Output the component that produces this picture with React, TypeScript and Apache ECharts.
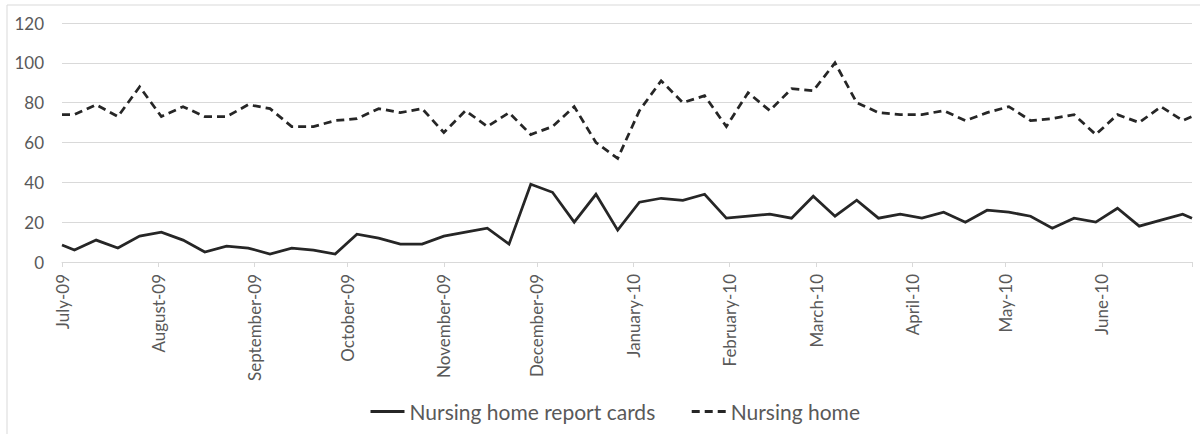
import React, { useEffect, useRef } from "react";
import * as echarts from "echarts";

const AXIS_START = "2009-07-01";
const AXIS_END = "2010-06-30";

const dates: string[] = [
  "2009-07-01", "2009-07-05", "2009-07-12", "2009-07-19", "2009-07-26",
  "2009-08-02", "2009-08-09", "2009-08-16", "2009-08-23", "2009-08-30",
  "2009-09-06", "2009-09-13", "2009-09-20", "2009-09-27",
  "2009-10-04", "2009-10-11", "2009-10-18", "2009-10-25",
  "2009-11-01", "2009-11-08", "2009-11-15", "2009-11-22", "2009-11-29",
  "2009-12-06", "2009-12-13", "2009-12-20", "2009-12-27",
  "2010-01-03", "2010-01-10", "2010-01-17", "2010-01-24", "2010-01-31",
  "2010-02-07", "2010-02-14", "2010-02-21", "2010-02-28",
  "2010-03-07", "2010-03-14", "2010-03-21", "2010-03-28",
  "2010-04-04", "2010-04-11", "2010-04-18", "2010-04-25",
  "2010-05-02", "2010-05-09", "2010-05-16", "2010-05-23", "2010-05-30",
  "2010-06-06", "2010-06-13", "2010-06-20", "2010-06-27", "2010-06-30",
];

const reportCards: number[] = [
  8.5, 6, 11, 7, 13, 15, 11, 5, 8, 7, 4, 7, 6, 4, 14, 12,
  9, 9, 13, 15, 17, 9, 39, 35, 20, 34, 16, 30, 32, 31, 34, 22, 23, 24,
  22, 33, 23, 31, 22, 24, 22, 25, 20, 26, 25, 23, 17, 22, 20, 27, 18, 21, 24, 22,
];

const nursingHome: number[] = [
  74, 74, 79, 73, 88, 73, 78, 73, 73, 79, 77, 68, 68, 71, 72, 77,
  75, 77, 65, 76, 68, 75, 64, 68, 78, 60, 52, 76, 91, 80, 83.5, 68, 85, 76,
  87, 86, 100, 80, 75, 74, 74, 76, 71, 75, 78, 71, 72, 74, 64, 74, 70, 78, 71, 73,
];

const monthNames = [
  "January", "February", "March", "April", "May", "June",
  "July", "August", "September", "October", "November", "December",
];

const SERIES_NAMES = ["Nursing home report cards", "Nursing home"];

function buildDays(start: string, end: string): string[] {
  const out: string[] = [];
  const d = new Date(start + "T00:00:00Z");
  const e = new Date(end + "T00:00:00Z");
  while (d.getTime() <= e.getTime()) {
    out.push(d.toISOString().slice(0, 10));
    d.setUTCDate(d.getUTCDate() + 1);
  }
  return out;
}

const FONT = "Lato, 'Open Sans', sans-serif";
const TEXT_COLOR = "#595959";
const GRID_COLOR = "#d9d9d9";
const LINE_COLOR = "#262626";

export default function App() {
  const ref = useRef<HTMLDivElement>(null);

  useEffect(() => {
    if (!ref.current) return;
    const chart = echarts.init(ref.current, undefined, { renderer: "svg" });
    const days = buildDays(AXIS_START, AXIS_END);
    const last = days.length - 1;

    const option: any = {
      animation: false,
      backgroundColor: "#ffffff",
      textStyle: { fontFamily: FONT },
      graphic: [
        {
          type: "rect",
          shape: { x: 7, y: 5, width: 1200, height: 440 },
          style: { fill: "none", stroke: GRID_COLOR, lineWidth: 1 },
          silent: true,
        },
      ],
      grid: { left: 62, right: 8, top: 23, bottom: 172, containLabel: false },
      legend: {
        top: 396,
        left: 364,
        itemWidth: 34,
        itemHeight: 14,
        itemGap: 35,
        itemStyle: { opacity: 0, borderWidth: 0 },
        lineStyle: { width: 3 },
        textStyle: { color: TEXT_COLOR, fontSize: 21, fontFamily: FONT },
        data: SERIES_NAMES,
      },
      xAxis: {
        type: "category",
        data: days,
        boundaryGap: false,
        axisLine: { show: true, lineStyle: { color: GRID_COLOR, width: 1 } },
        axisTick: {
          show: true,
          length: 5,
          lineStyle: { color: GRID_COLOR },
          interval: (index: number, value: string) =>
            value.slice(8, 10) === "01" || index === last,
        },
        axisLabel: {
          rotate: 90,
          margin: 12,
          color: TEXT_COLOR,
          fontSize: 17,
          fontFamily: FONT,
          interval: (index: number, value: string) =>
            value.slice(8, 10) === "01" && index !== last,
          formatter: (value: string) => {
            const m = parseInt(value.slice(5, 7), 10) - 1;
            return monthNames[m] + "-" + value.slice(2, 4);
          },
        },
        splitLine: { show: false },
      },
      yAxis: {
        type: "value",
        min: 0,
        max: 120,
        interval: 20,
        axisLine: { show: false },
        axisTick: { show: false },
        axisLabel: { color: TEXT_COLOR, fontSize: 17, fontFamily: FONT, margin: 18 },
        splitLine: { show: true, lineStyle: { color: GRID_COLOR, width: 1 } },
      },
      series: [
        {
          name: SERIES_NAMES[0],
          type: "line",
          symbol: "none",
          data: dates.map((d, i) => [d, reportCards[i]]),
          lineStyle: { color: LINE_COLOR, width: 2.75, type: "solid", cap: "butt", join: "miter" },
          itemStyle: { color: LINE_COLOR },
        },
        {
          name: SERIES_NAMES[1],
          type: "line",
          symbol: "none",
          data: dates.map((d, i) => [d, nursingHome[i]]),
          lineStyle: { color: LINE_COLOR, width: 2.75, type: [8, 5], cap: "butt", join: "miter" },
          itemStyle: { color: LINE_COLOR },
        },
      ],
    };
    chart.setOption(option);
    return () => chart.dispose();
  }, []);

  return (
    <div
      ref={ref}
      style={{ position: "fixed", left: 0, top: 0, width: 1200, height: 434, background: "#fff" }}
    />
  );
}
